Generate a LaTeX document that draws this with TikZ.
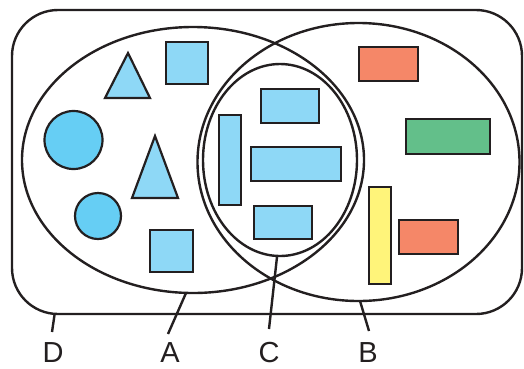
\documentclass[tikz,border=0pt]{standalone}
\usepackage{fontspec}
\setmainfont{Liberation Sans}
\begin{document}
\begin{tikzpicture}[x=1pt,y=-1pt,
  line width=2.4pt,
  ink/.style={draw=inkc},
  setline/.style={ink},
  shp/.style={ink, line width=2.2pt},
  lblue/.style={shp, fill=lblue},
  dblue/.style={shp, fill=dblue},
  orng/.style={shp, fill=orng},
  grn/.style={shp, fill=grn},
  yel/.style={shp, fill=yel},
  lbl/.style={font=\fontsize{29}{29}\selectfont, text=inkc, anchor=base, inner sep=0pt, text depth=0pt},
  lead/.style={ink, line width=2.4pt}]
\definecolor{inkc}{HTML}{231F20}
\definecolor{lblue}{HTML}{8ED8F6}
\definecolor{dblue}{HTML}{66CEF4}
\definecolor{orng}{HTML}{F58768}
\definecolor{grn}{HTML}{63BF8A}
\definecolor{yel}{HTML}{FFF47A}
\useasboundingbox (0,0) rectangle (524,368);

% universe D
\draw[setline, rounded corners=46pt] (12,10) rectangle (522,314);
% sets A, B and C
\draw[setline] (193,160) ellipse [x radius=171, y radius=133];
\draw[setline] (358.5,162) ellipse [x radius=161, y radius=139];
\draw[setline] (280,160) ellipse [x radius=77, y radius=96];

% shapes only in A
\draw[lblue] (128,53) -- (150,98) -- (105,98) -- cycle;
\draw[lblue] (166,42) rectangle (208,84);
\draw[dblue] (73.5,140) circle [radius=29];
\draw[lblue] (155,136) -- (178,198) -- (132,198) -- cycle;
\draw[dblue] (98,216) circle [radius=23];
\draw[lblue] (150,230) rectangle (193,272);

% shapes in C
\draw[lblue] (219,115) rectangle (241,205);
\draw[lblue] (261,89) rectangle (319,123);
\draw[lblue] (251,147) rectangle (341,181);
\draw[lblue] (254,206) rectangle (312,239);

% shapes only in B
\draw[orng] (359,47) rectangle (418,81);
\draw[grn] (406,119) rectangle (490,154);
\draw[yel] (369,187) rectangle (391,284);
\draw[orng] (399,220) rectangle (458,254);

% labels and leader lines
\coordinate (dD) at (54.5,315);
\coordinate (dA) at (186,293);
\coordinate (dC) at (277,257);
\coordinate (dB) at (360,301);
\node[lbl] (lD) at (53,362) {D};
\node[lbl] (lA) at (170,362) {A};
\node[lbl] (lC) at (269,362) {C};
\node[lbl] (lB) at (368,362) {B};
\draw[lead] (dD) -- (52,332);
\draw[lead] (dA) -- (168,334);
\draw[lead] (dC) -- (269,329);
\draw[lead] (dB) -- (369,331);
\end{tikzpicture}
\end{document}
